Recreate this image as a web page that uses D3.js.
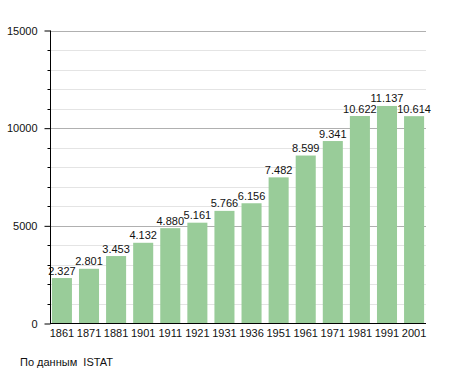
<!DOCTYPE html>
<html>
<head>
<meta charset="utf-8">
<script src="https://cdn.jsdelivr.net/npm/d3@7"></script>
<style>
  body{margin:0;background:#fff;}
  svg{display:block;font-family:"Liberation Sans",Arial,sans-serif;}
</style>
</head>
<body>
<div id="chart"></div>
<script>
const years=['1861','1871','1881','1901','1911','1921','1931','1936','1951','1961','1971','1981','1991','2001'];
const population=[2327,2801,3453,4132,4880,5161,5766,6156,7482,8599,9341,10622,11137,10614];
const valueLabels=['2.327','2.801','3.453','4.132','4.880','5.161','5.766','6.156','7.482','8.599','9.341','10.622','11.137','10.614'];
const majorTicks=[0,5000,10000,15000];
const minorTicks=d3.range(1000,15000,1000).filter(v=>v%5000!==0);
const source='По данным  ISTAT';

const W=455,H=373;
const svg=d3.select('#chart').append('svg').attr('width',W).attr('height',H);
const x=d3.scaleBand().domain(years).range([50,426]).paddingInner(0.26).paddingOuter(0.07);
const y=d3.scaleLinear().domain([0,15000]).range([323.5,30.5]);

// minor grid
svg.append('g').selectAll('line').data(minorTicks).join('line')
  .attr('x1',50).attr('x2',426).attr('y1',d=>Math.round(y(d))+.5).attr('y2',d=>Math.round(y(d))+.5)
  .attr('stroke','#e4e4e4').attr('stroke-width',1);
// major grid
svg.append('g').selectAll('line').data(majorTicks.filter(d=>d>0)).join('line')
  .attr('x1',50).attr('x2',426).attr('y1',d=>Math.round(y(d))+.5).attr('y2',d=>Math.round(y(d))+.5)
  .attr('stroke','#b0b0b0').attr('stroke-width',1);

// bars
svg.append('g').selectAll('rect').data(population).join('rect')
  .attr('x',(d,i)=>x(years[i])).attr('width',x.bandwidth())
  .attr('y',d=>y(d)).attr('height',d=>y(0)-y(d))
  .attr('fill','#99cc99');

// value labels
svg.append('g').selectAll('text').data(population).join('text')
  .attr('x',(d,i)=>x(years[i])+x.bandwidth()/2).attr('y',d=>y(d)-3.5)
  .attr('text-anchor','middle').attr('font-size',11).attr('fill','#111')
  .text((d,i)=>valueLabels[i]);

// y axis
const ya=svg.append('g').attr('transform','translate(50.5,0)');
ya.call(d3.axisLeft(y).tickValues(majorTicks).tickSize(6).tickPadding(7).tickFormat(d3.format('d')));
ya.select('.domain').attr('stroke','#000').attr('d','M0,30.5V323.5');
ya.selectAll('.tick text').attr('font-size',11).attr('fill','#111').attr('font-family','"Liberation Sans",Arial,sans-serif');
ya.append('g').selectAll('line').data(minorTicks).join('line')
  .attr('x1',-3).attr('x2',0).attr('y1',d=>Math.round(y(d))+.5).attr('y2',d=>Math.round(y(d))+.5).attr('stroke','#000');

// x axis
const xa=svg.append('g').attr('transform','translate(0,323.5)');
xa.call(d3.axisBottom(x).tickSize(0).tickPadding(6));
xa.select('.domain').attr('stroke','#000').attr('d','M50,0H426');
xa.selectAll('.tick text').attr('font-size',11).attr('fill','#111').attr('font-family','"Liberation Sans",Arial,sans-serif');

svg.append('text').attr('x',20).attr('y',366).attr('font-size',11).attr('fill','#111')
  .style('white-space','pre').text(source);
</script>
</body>
</html>
